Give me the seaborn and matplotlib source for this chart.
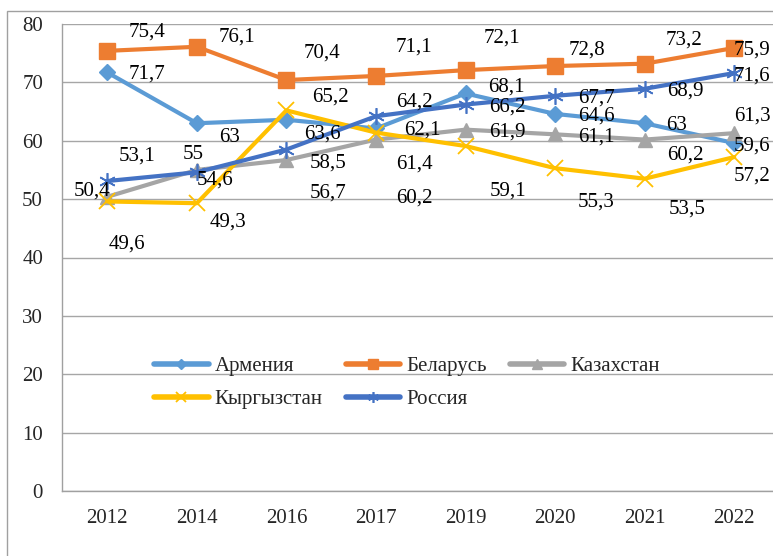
import pandas as pd
import matplotlib
matplotlib.use("Agg")
import matplotlib.pyplot as plt
import seaborn as sns
from matplotlib.patches import Rectangle

# data
years = ['2012', '2014', '2016', '2017', '2019', '2020', '2021', '2022']
armenia = [71.7, 63.0, 63.6, 62.1, 68.1, 64.6, 63.0, 59.6]
belarus = [75.4, 76.1, 70.4, 71.1, 72.1, 72.8, 73.2, 75.9]
kazakhstan = [50.4, 55.0, 56.7, 60.2, 61.9, 61.1, 60.2, 61.3]
kyrgyzstan = [49.6, 49.3, 65.2, 61.4, 59.1, 55.3, 53.5, 57.2]
russia = [53.1, 54.6, 58.5, 64.2, 66.2, 67.7, 68.9, 71.6]

series = {
    'Армения': armenia,
    'Беларусь': belarus,
    'Казахстан': kazakhstan,
    'Кыргызстан': kyrgyzstan,
    'Россия': russia,
}

# line styles
styles = {
    'Армения': dict(color='#5B9BD5', marker='D', markersize=8),
    'Беларусь': dict(color='#ED7D31', marker='s', markersize=11),
    'Казахстан': dict(color='#A5A5A5', marker='^', markersize=10),
    'Кыргызстан': dict(color='#FFC000', marker='x', markersize=11, markeredgewidth=1.3),
    'Россия': dict(color='#4472C4', marker=(6, 2, 0), markersize=12, markeredgewidth=1.2),
}

# label offsets in pixels (right, down) as placed in the reference
offsets = {
    'Армения': [(40, 2), (33, 14), (36, 14), (46, 2), (41, -6), (41, 2), (32, 2), (18, 3)],
    'Беларусь': [(40, -19), (40, -10), (36, -27), (38, -29), (36, -32), (32, -16), (39, -24), (18, 2)],
    'Казахстан': [(-15, -6), (-4, -15), (42, 33), (38, 58), (42, 2), (41, 3), (41, 15), (18, -17)],
    'Кыргызстан': [(20, 43), (31, 19), (44, -13), (38, 31), (42, 45), (41, 34), (42, 30), (18, 19)],
    'Россия': [(30, -25), (18, 8), (42, 14), (38, -14), (42, 2), (41, 2), (41, 2), (18, 3)],
}

sns.set_style("white")
plt.rcParams['font.family'] = ['Liberation Serif', 'DejaVu Serif']
fs = 15

fig = plt.figure(figsize=(7.73, 5.56), dpi=100)
ax = fig.add_axes([62.5 / 773, 65 / 556, (779 - 62.5) / 773, (491 - 24) / 556])

pos = list(range(len(years)))
for name, vals in series.items():
    df = pd.DataFrame({'pos': pos, 'value': vals})
    st = styles[name]
    sns.lineplot(data=df, x='pos', y='value', ax=ax, label=name, linewidth=3,
                 color=st['color'], marker=st['marker'], markersize=st['markersize'],
                 markeredgecolor=st['color'], markerfacecolor=st['color'],
                 markeredgewidth=st.get('markeredgewidth', 1), zorder=3)
    for x, v, (dx, dy) in zip(pos, vals, offsets[name]):
        ax.annotate(f'{v:g}'.replace('.', ','), (x, v), xytext=(dx, -dy),
                    textcoords='offset pixels', ha='center', va='center',
                    fontsize=fs, color='black', zorder=4, annotation_clip=False)

ax.set_xlim(-0.5, 7.5)
ax.set_ylim(0, 80)
ax.set_yticks(range(0, 81, 10))
ax.set_xticks(pos)
ax.set_xticklabels(years)
ax.set_xticks([p - 0.5 for p in pos] + [7.5], minor=True)
ax.tick_params(axis='x', which='major', length=0, pad=13, labelsize=fs)
ax.tick_params(axis='x', which='minor', length=5, width=1, color='#A0A0A0')
ax.tick_params(axis='y', length=4, width=1, color='#A0A0A0', pad=10, labelsize=fs)
ax.set_xlabel('')
ax.set_ylabel('')
ax.grid(axis='y', color='#A6A6A6', linewidth=1)
ax.set_axisbelow(True)
for side in ['top', 'right']:
    ax.spines[side].set_visible(False)
for side in ['left', 'bottom']:
    ax.spines[side].set_color('#A0A0A0')
    ax.spines[side].set_linewidth(1)

# legend laid out row by row like the reference
h, l = ax.get_legend_handles_labels()
order = [0, 3, 1, 4, 2]
leg = ax.legend([h[i] for i in order], [l[i] for i in order], ncol=3, frameon=False,
                loc='upper left', bbox_to_anchor=((146 - 62.5) / 716.5, (491 - 348) / 467),
                fontsize=fs, handlelength=2.6, columnspacing=1.1, handletextpad=0.3,
                labelspacing=0.65, borderaxespad=0, markerscale=0.65)
for line in leg.get_lines():
    line.set_linewidth(4)

# outer chart frame, cropped at right and bottom
fig.add_artist(Rectangle((7 / 773, -0.1), 1.2, (556 - 11) / 556 + 0.1,
                         transform=fig.transFigure, fill=False,
                         edgecolor='#A0A0A0', linewidth=1))

fig.savefig('out.png', dpi=100)
